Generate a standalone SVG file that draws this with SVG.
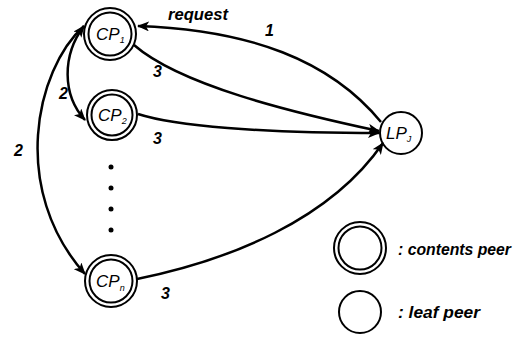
<svg xmlns="http://www.w3.org/2000/svg" width="514" height="337" viewBox="0 0 514 337">
<style>
.ring{fill:none;stroke:#000;stroke-width:2}
.edge{fill:none;stroke:#000;stroke-width:2.5}
.lbl{font-family:"Liberation Sans",Arial,sans-serif;font-style:italic;font-weight:bold;font-size:16px;fill:#000}
.node{font-family:"Liberation Sans",Arial,sans-serif;font-style:italic;font-size:17px;fill:#000}
.sub{font-size:9px}
</style>
<defs>
<marker id="arr" markerWidth="12" markerHeight="10" refX="11" refY="5" orient="auto-start-reverse" markerUnits="userSpaceOnUse">
<path d="M0,0 L12,5 L0,10 L3,5 Z" fill="#000"/>
</marker>
</defs>
<rect width="514" height="337" fill="#fff"/>
<g id="connectors">
<path class="edge" d="M381,122 C330,60 250,30 138,26" marker-end="url(#arr)"/>
<path class="edge" d="M134,45 C180,85 290,112 379,131" marker-end="url(#arr)"/>
<path class="edge" d="M138,114 C175,126 260,133 379,133" marker-end="url(#arr)"/>
<path class="edge" d="M137,279 C230,260 330,220 383,143" marker-end="url(#arr)"/>
<path class="edge" d="M84,26 C62,55 62,95 85,120" marker-start="url(#arr)" marker-end="url(#arr)"/>
<path class="edge" d="M84,26 C35,70 10,190 85,274" marker-end="url(#arr)"/>
<text class="lbl" x="168" y="20" textLength="60" lengthAdjust="spacingAndGlyphs">request</text>
<text class="lbl" x="265" y="36">1</text>
<text class="lbl" x="153" y="77">3</text>
<text class="lbl" x="153" y="144">3</text>
<text class="lbl" x="161" y="299">3</text>
<text class="lbl" x="59" y="99">2</text>
<text class="lbl" x="14" y="156">2</text>
</g>
<g id="CP1">
<circle class="ring" cx="110" cy="34" r="26"/>
<circle class="ring" cx="110" cy="34" r="21.5"/>
<text class="node" x="96" y="40">CP<tspan class="sub" dy="3">1</tspan></text>
</g>
<g id="CP2">
<circle class="ring" cx="112" cy="115" r="25"/>
<circle class="ring" cx="112" cy="115" r="20.5"/>
<text class="node" x="98" y="121">CP<tspan class="sub" dy="3">2</tspan></text>
</g>
<g id="dots">
<circle cx="111" cy="167" r="2.5"/>
<circle cx="111" cy="188" r="2.5"/>
<circle cx="111" cy="209" r="2.5"/>
<circle cx="111" cy="230" r="2.5"/>
</g>
<g id="CPn">
<circle class="ring" cx="111" cy="281" r="26"/>
<circle class="ring" cx="111" cy="281" r="21.5"/>
<text class="node" x="96" y="287">CP<tspan class="sub" dy="4">n</tspan></text>
</g>
<g id="LPj">
<circle class="ring" cx="401" cy="133" r="21"/>
<text class="node" x="386" y="139">LP<tspan class="sub" dy="3" font-size="11">J</tspan></text>
</g>
<g id="legend">
<circle class="ring" cx="360" cy="248" r="26"/>
<circle class="ring" cx="360" cy="248" r="21.5"/>
<text class="lbl" x="398" y="255" textLength="113" lengthAdjust="spacingAndGlyphs">: contents peer</text>
<circle class="ring" cx="360" cy="312" r="21"/>
<text class="lbl" x="398" y="318" textLength="82" lengthAdjust="spacingAndGlyphs">: leaf peer</text>
</g>
</svg>
